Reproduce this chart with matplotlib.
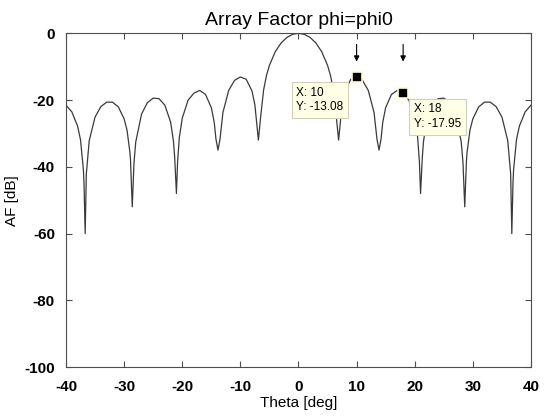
import matplotlib.pyplot as plt

plt.rcParams["font.family"] = ["Liberation Sans", "DejaVu Sans"]
plt.rcParams["axes.unicode_minus"] = False

# ---------------------------------------------------------------
# data (theta in deg, AF in dB)
# ---------------------------------------------------------------
theta = [-40, -39, -38, -37.5, -37, -36.9, -36.7, -36.5, -36, -35, -34, -33, -32, -31, -30,
         -29.5, -29, -28.9, -28.6, -28.3, -28, -27, -26, -25, -24, -23, -22, -21.5, -21.3,
         -21.0, -20.8, -20.5, -20, -19, -18, -17, -16, -15, -14.5, -14.2, -13.85, -13.5, -13,
         -12, -11, -10, -9, -8, -7.5, -7.2, -6.9, -6.5, -6, -5.5, -5, -4, -3, -2, -1,
         0,
         1, 2, 3, 4, 5, 5.5, 6, 6.5, 6.9, 7.2, 7.5, 8, 9, 10, 11, 12, 13, 13.5, 13.85, 14.2,
         14.5, 15, 16, 17, 18, 19, 20, 20.5, 20.8, 21.0, 21.3, 21.5, 22, 23, 24, 25, 26, 27,
         28, 28.3, 28.6, 28.9, 29, 29.5, 30, 31, 32, 33, 34, 35, 36, 36.5, 36.7, 36.9, 37,
         37.5, 38, 39, 40]
af_db = [-21.53, -23.53, -27.81, -31.9, -41.0, -45.0, -60.0, -42.1, -32.16, -25.09, -21.97,
         -20.63, -20.63, -22.04, -25.62, -29.0, -35.7, -38.0, -52.0, -38.8, -32.57, -24.21,
         -20.79, -19.42, -19.59, -21.51, -26.58, -32.5, -37.2, -48.0, -38.5, -31.2, -25.47,
         -20.05, -17.95, -17.12, -18.31, -22.25, -26.6, -31.7, -35.0, -31.7, -23.72, -17.08,
         -14.09, -13.08, -13.76, -17.27, -21.5, -26.7, -32.0, -24.9, -16.95, -12.6, -9.60,
         -5.52, -2.91, -1.24, -0.30,
         0.0,
         -0.30, -1.24, -2.91, -5.52, -9.60, -12.6, -16.95, -24.9, -32.0, -26.7, -21.5, -17.27,
         -13.76, -13.08, -14.09, -17.08, -23.72, -31.7, -35.0, -31.7, -26.6, -22.25, -18.31,
         -17.12, -17.95, -20.05, -25.47, -31.2, -38.5, -48.0, -37.2, -32.5, -26.58, -21.51,
         -19.59, -19.42, -20.79, -24.21, -32.57, -38.8, -52.0, -38.0, -35.7, -29.0, -25.62,
         -22.04, -20.63, -20.63, -21.97, -25.09, -32.16, -42.1, -60.0, -45.0, -41.0, -31.9,
         -27.81, -23.53, -21.53]

tip_x = [10, 18]
tip_y = [-13.08, -17.95]

xticks = range(-40, 41, 10)
yticks = range(-100, 1, 20)

# ---------------------------------------------------------------
# plot
# ---------------------------------------------------------------
fig = plt.figure(figsize=(5.44, 4.18), dpi=100)
ax = fig.add_axes([0.1213, 0.1220, 0.8548, 0.7983])

ax.plot(theta, af_db, color="#3a3a3a", lw=0.9)

# data tips
ax.plot(tip_x, tip_y, ls="none", marker="s", ms=6.5, mfc="k", mec="#fffbd0", mew=1.2, zorder=5)
tipbox = dict(boxstyle="square,pad=0.4", fc="#ffffe6", ec="#d0d0c0", lw=0.8)
ax.text(-0.35, -16.0, "X: 10\nY: -13.08", fontsize=8.5, ha="left", va="top",
        bbox=tipbox, zorder=6, linespacing=1.3)
ax.text(19.8, -21.0, "X: 18\nY: -17.95", fontsize=8.5, ha="left", va="top",
        bbox=tipbox, zorder=6, linespacing=1.3)

# arrows above the tips
for x in tip_x:
    ax.annotate("", xy=(x, -9.3), xytext=(x, -2.5),
                arrowprops=dict(arrowstyle="-|>", color="k", lw=0.8, mutation_scale=8))

ax.set_xlim(-40, 40)
ax.set_ylim(-100, 0)
ax.set_xticks(xticks)
ax.set_yticks(yticks)
ax.tick_params(direction="in", top=True, right=True, length=4, width=0.8,
               color="#4d4d4d", labelsize=11)
ax.tick_params(axis="x", pad=9)
ax.tick_params(axis="y", pad=8)
for lab in ax.get_xticklabels() + ax.get_yticklabels():
    lab.set_fontweight("bold")
for s in ax.spines.values():
    s.set_color("#4d4d4d")
    s.set_linewidth(0.8)

ax.set_title("Array Factor phi=phi0", fontsize=14, pad=6)
ax.set_xlabel("Theta [deg]", fontsize=11, labelpad=2)
ax.set_ylabel("AF [dB]", fontsize=11, labelpad=4)

plt.savefig("out.png", dpi=100)
